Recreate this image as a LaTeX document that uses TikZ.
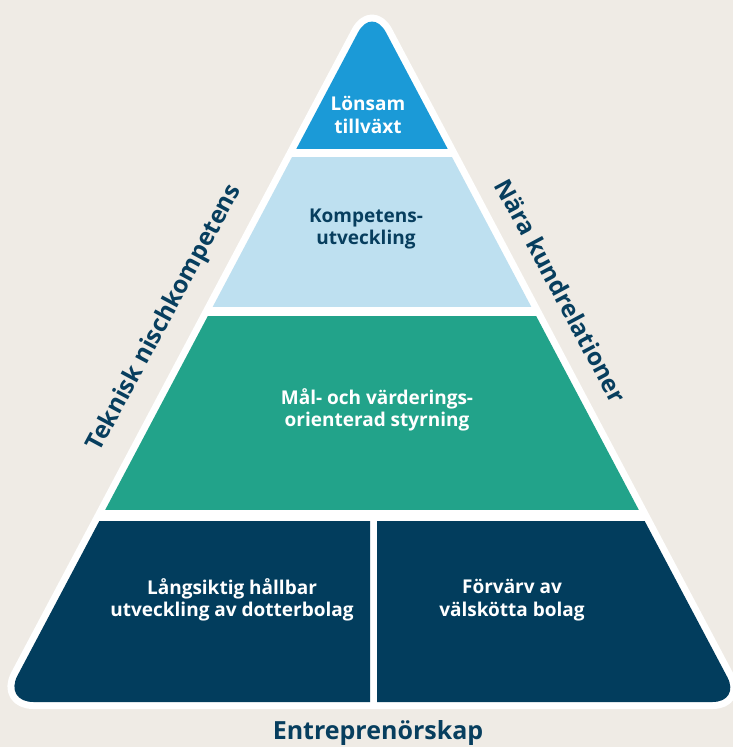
\documentclass[tikz,border=0pt]{standalone}
\usepackage{fontspec}
\setmainfont{Open Sans}
\definecolor{bgc}{HTML}{EFEBE5}
\definecolor{tierA}{HTML}{1B9AD7}
\definecolor{tierB}{HTML}{BEE0F0}
\definecolor{tierC}{HTML}{22A38A}
\definecolor{tierD}{HTML}{023D5D}
\definecolor{ink}{HTML}{073E5E}
\tikzset{
  intext/.style={align=center, font=\fontsize{19}{22.5}\selectfont\bfseries, inner sep=0pt},
  sidetext/.style={font=\fontsize{24.3}{27}\selectfont\bfseries, text=ink, inner sep=0pt},
}
\newcommand{\pyrpath}{(372,702) [rounded corners=30pt] -- (3.5,702) -- (372,6) [rounded corners=28pt] -- (740.5,702) [rounded corners=30pt] -- cycle}
\begin{document}
\begin{tikzpicture}[x=1pt,y=-1pt]
\useasboundingbox (0,0) rectangle (733,747);
\fill[bgc] (0,0) rectangle (733,747);
% white outer frame
\filldraw[white, line width=14pt, line join=round] \pyrpath;
% tiers
\begin{scope}
\clip (0,0) rectangle (733,148);
\fill[tierA] \pyrpath;
\end{scope}
\begin{scope}
\clip (0,157) rectangle (733,306);
\fill[tierB] \pyrpath;
\end{scope}
\begin{scope}
\clip (0,316) rectangle (733,509.5);
\fill[tierC] \pyrpath;
\end{scope}
\begin{scope}
\clip (0,521) rectangle (370,720);
\fill[tierD] \pyrpath;
\end{scope}
\begin{scope}
\clip (377,521) rectangle (733,720);
\fill[tierD] \pyrpath;
\end{scope}
% texts
\node[intext, text=white] (t1) at (368,115) {Lönsam\\tillväxt};
\node[intext, text=ink] (t2) at (366,229) {Kompetens-\\utveckling};
\node[intext, text=white] (t3) at (377,410) {Mål- och värderings-\\orienterad styrning};
\node[intext, text=white] (t4) at (232,600) {Långsiktig hållbar\\utveckling av dotterbolag};
\node[intext, text=white] (t5) at (512,600) {Förvärv av\\välskötta bolag};
\node[sidetext, rotate=61.8] (s1) at (165,318) {Teknisk nischkompetens};
\node[sidetext, rotate=-61.8] (s2) at (561,291) {Nära kundrelationer};
\node[font=\fontsize{25}{28}\selectfont\bfseries, text=ink, inner sep=0pt] (s3) at (378,733) {Entreprenörskap};
\end{tikzpicture}
\end{document}
